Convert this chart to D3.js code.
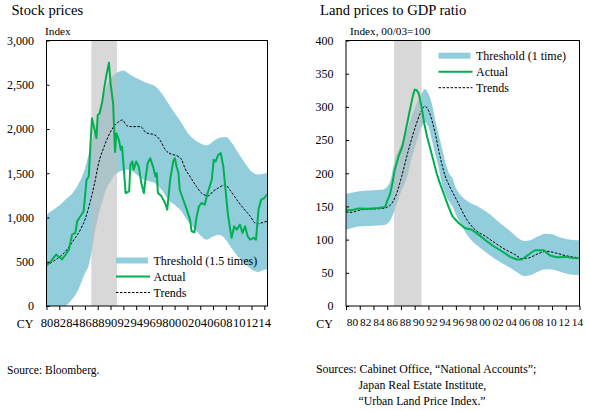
<!DOCTYPE html>
<html>
<head>
<meta charset="utf-8">
<script src="https://cdn.jsdelivr.net/npm/d3@7"></script>
<style>
  body { margin: 0; background: #fff; }
  svg text { font-family: "Liberation Serif", "Times New Roman", serif; fill: #000; }
</style>
</head>
<body>
<div id="container"></div>
<script>
// ---- stock prices (index), left panel ----
const stockBandYears = [1980, 1981, 1982, 1983, 1984, 1985, 1986, 1986.5, 1987, 1987.5, 1988, 1988.5, 1989, 1989.5,
  1990, 1990.5, 1991, 1992, 1993, 1994, 1995, 1996, 1997, 1998, 1999, 2000, 2001, 2002, 2003, 2004, 2005, 2006,
  2007, 2008, 2009, 2010, 2011, 2012, 2013, 2014, 2014.5];
const stockUpper = [1032, 1085, 1135, 1205, 1270, 1380, 1555, 1690, 1830, 2000, 2160, 2300, 2403, 2500,
  2572, 2610, 2635, 2660, 2615, 2575, 2540, 2510, 2480, 2400, 2290, 2180, 2075, 1960, 1885, 1840, 1815, 1860,
  1900, 1910, 1835, 1720, 1614, 1520, 1485, 1495, 1502];
const stockLower = [-120, -100, -60, 0, 75, 190, 370, 440, 600, 810, 985, 1130, 1250, 1350,
  1410, 1470, 1500, 1535, 1540, 1490, 1435, 1410, 1385, 1310, 1201, 1145, 1075, 965, 880, 800, 750, 785,
  805, 750, 640, 550, 480, 415, 385, 410, 413];
const stockActual = [[1980.0, 458], [1980.3, 480], [1980.6, 495], [1981.1, 544], [1981.5, 582], [1981.8, 563],
  [1982.2, 544], [1982.4, 526], [1983.0, 582], [1983.5, 638], [1984.0, 807], [1984.5, 826], [1984.8, 957],
  [1985.3, 1014], [1985.8, 1070], [1986.25, 1426], [1986.6, 1464], [1986.9, 1877], [1987.1, 2121], [1987.5, 1990],
  [1987.8, 1896], [1988.0, 2159], [1988.3, 2177], [1988.7, 2309], [1989.0, 2459], [1989.4, 2628], [1989.75, 2748],
  [1990.0, 2515], [1990.4, 2290], [1990.7, 1740], [1990.9, 1952], [1991.3, 1877], [1991.6, 1764], [1991.8, 1802],
  [1992.1, 1520], [1992.35, 1276], [1992.9, 1295], [1993.1, 1595], [1993.4, 1633], [1993.6, 1539], [1994.0, 1633],
  [1994.4, 1577], [1994.8, 1389], [1995.2, 1276], [1995.5, 1464], [1995.8, 1614], [1996.2, 1670], [1996.7, 1558],
  [1997.0, 1464], [1997.2, 1502], [1997.4, 1276], [1997.96, 1239], [1998.5, 1164], [1998.85, 1089], [1999.3, 1426],
  [1999.8, 1640], [2000.05, 1670], [2000.3, 1577], [2000.6, 1502], [2000.8, 1314], [2001.35, 1201], [2001.9, 1089],
  [2002.4, 976], [2002.65, 845], [2003.1, 833], [2003.4, 995], [2003.8, 1126], [2004.2, 1164], [2004.7, 1145],
  [2005.15, 1276], [2005.8, 1426], [2006.1, 1652], [2006.4, 1633], [2006.8, 1708], [2007.2, 1727], [2007.6, 1577],
  [2007.9, 1351], [2008.3, 1051], [2008.6, 901], [2008.9, 770], [2009.3, 901], [2009.7, 863], [2010.2, 920],
  [2010.6, 826], [2011.0, 901], [2011.4, 788], [2011.8, 751], [2012.3, 770], [2012.7, 750], [2013.1, 1089],
  [2013.5, 1201], [2014.0, 1220], [2014.4, 1260]];
const stockTrend = [[1980, 458], [1981.1, 507], [1982.2, 563], [1983.2, 638], [1984.3, 751], [1985.3, 863],
  [1986.1, 995], [1986.9, 1201], [1987.4, 1351], [1988.2, 1630], [1989.0, 1802], [1989.75, 1933], [1990.5, 2027],
  [1991.3, 2083], [1991.8, 2102], [1992.6, 2035], [1993.4, 2027], [1994.7, 2027], [1995.5, 1960], [1996.25, 1945],
  [1996.9, 1933], [1997.7, 1877], [1998.6, 1760], [1999.5, 1715], [2000.3, 1700], [2001.1, 1652], [2001.6, 1558],
  [2002.4, 1464], [2003.4, 1351], [2004.2, 1276], [2005.25, 1245], [2006.0, 1295], [2006.8, 1333], [2007.9, 1370],
  [2008.6, 1314], [2009.7, 1201], [2010.7, 1107], [2011.8, 1014], [2012.55, 938], [2013.1, 930], [2013.85, 946],
  [2014.5, 957]];
const stockTicks = [0, 500, 1000, 1500, 2000, 2500, 3000];
const stockLegend = ['Threshold (1.5 times)', 'Actual', 'Trends'];

// ---- land prices to GDP ratio, right panel ----
const landBandYears = [1980, 1981, 1982, 1983, 1984, 1985, 1985.5, 1986, 1986.5, 1987, 1987.5, 1988, 1988.5, 1989,
  1989.5, 1990, 1990.5, 1991, 1991.5, 1992, 1992.5, 1993, 1993.5, 1994, 1994.5, 1995, 1995.5, 1996, 1997, 1998,
  1999, 2000, 2001, 2002, 2003, 2004, 2005, 2006, 2007, 2008, 2009, 2010, 2011, 2012, 2013, 2014];
const landUpper = [169, 171, 173, 174, 174.5, 175, 176, 180, 190, 215, 232, 243, 255, 268,
  284, 298, 310, 320, 327, 320, 305, 280, 258, 237, 216, 200, 192, 178, 164, 156,
  151, 145, 138, 129, 120, 112, 103, 98, 100, 105, 109, 108, 104, 101, 99.5, 99];
const landLower = [115, 118, 120, 120.5, 121, 121.5, 122, 124, 130, 142, 157, 172, 183, 198,
  220, 238, 255, 270, 277, 270, 250, 228, 208, 182, 168, 158, 150, 138, 118, 102,
  92, 84, 76, 69, 63, 57, 50, 45, 47, 52, 55.5, 55, 52.5, 49, 47, 46.5];
const landActual = [[1980.0, 146], [1980.3, 144], [1981.1, 145], [1981.8, 147], [1983.3, 146.5], [1984.7, 147.5],
  [1985.7, 149], [1986.0, 158], [1986.4, 168], [1986.75, 185], [1987.1, 205], [1987.7, 227], [1988.2, 240],
  [1988.7, 265], [1989.2, 290], [1989.7, 315], [1990.0, 326], [1990.3, 325], [1990.6, 320], [1991.0, 300],
  [1991.4, 275], [1991.8, 255], [1992.2, 240], [1992.7, 220], [1993.2, 200], [1993.6, 187], [1994.2, 170],
  [1994.9, 150], [1995.5, 135], [1996.4, 125], [1997.3, 117.5], [1998.3, 115], [1999.3, 107.5], [2000.5, 97.5],
  [2001.5, 90], [2002.7, 82.5], [2003.9, 74], [2004.9, 70], [2005.6, 70], [2006.6, 77.5], [2007.5, 84],
  [2008.8, 84], [2009.7, 76], [2010.7, 73.5], [2011.9, 74], [2012.9, 72.5], [2014.0, 72]];
const landTrend = [[1980, 142], [1980.6, 141], [1982.3, 145], [1983.7, 146], [1985.4, 147], [1986.2, 150],
  [1986.7, 155], [1987.2, 165], [1987.7, 180], [1988.1, 195], [1989.1, 235], [1990.1, 270], [1990.8, 290],
  [1991.5, 301], [1992.0, 295], [1992.5, 280], [1993.0, 260], [1993.7, 225], [1994.4, 197], [1995.1, 180],
  [1996.1, 160], [1997.6, 130], [1998.8, 115], [2000.3, 105], [2001.7, 95], [2003.2, 85], [2004.6, 77.5],
  [2005.6, 71.5], [2006.6, 72.5], [2008.0, 79], [2009.25, 82.5], [2010.5, 80], [2011.9, 76], [2012.9, 74],
  [2014, 72.5]];
const landTicks = [0, 50, 100, 150, 200, 250, 300, 350, 400];
const landLegend = ['Threshold (1 time)', 'Actual', 'Trends'];

// shared
const yearTicks = d3.range(1980, 2015, 2);
const bubbleSpan = [1987, 1991];

const width = 589;
const height = 411;
const bandColor = '#92cddc';
const actualColor = '#00b050';

const svg = d3.select('#container')
  .append('svg')
  .attr('width', width)
  .attr('height', height);

function drawPanel(p) {
  const x = d3.scaleLinear().domain(p.xDomain).range([p.left, p.right]);
  const y = d3.scaleLinear().domain(p.yDomain).range([p.bottom, p.top]);
  const g = svg.append('g');

  g.append('clipPath').attr('id', p.id + '-clip')
    .append('rect')
    .attr('x', p.left).attr('y', p.top)
    .attr('width', p.right - p.left).attr('height', p.bottom - p.top);

  const plot = g.append('g').attr('clip-path', `url(#${p.id}-clip)`);

  // threshold band
  const area = d3.area()
    .x((d, i) => x(p.bandYears[i]))
    .y0((d, i) => y(p.lower[i]))
    .y1((d, i) => y(p.upper[i]))
    .curve(d3.curveMonotoneX);
  plot.append('path').datum(p.bandYears).attr('d', area).style('fill', bandColor);

  // bubble period shading
  plot.append('rect')
    .attr('x', x(bubbleSpan[0]))
    .attr('width', x(bubbleSpan[1]) - x(bubbleSpan[0]))
    .attr('y', p.top)
    .attr('height', p.bottom - p.top)
    .style('fill', 'rgb(190,190,190)')
    .style('opacity', 0.6);

  // trend and actual
  const trendLine = d3.line().x(d => x(d[0])).y(d => y(d[1])).curve(d3.curveMonotoneX);
  const actualLine = d3.line().x(d => x(d[0])).y(d => y(d[1]));
  plot.append('path').datum(p.trend).attr('d', trendLine)
    .style('fill', 'none').style('stroke', '#000').style('stroke-width', 1)
    .style('stroke-dasharray', '2.5,1.5');
  plot.append('path').datum(p.actual).attr('d', actualLine)
    .style('fill', 'none').style('stroke', actualColor).style('stroke-width', 2)
    .style('stroke-linejoin', 'round');

  // axes
  const xAxis = d3.axisBottom(x)
    .tickValues(yearTicks)
    .tickSize(4)
    .tickPadding(8)
    .tickFormat(d => String(d).slice(2));
  const xg = g.append('g')
    .attr('transform', `translate(0,${p.bottom})`)
    .call(xAxis);
  xg.select('.domain').remove();
  if (p.labelRange) {
    const lx = d3.scaleLinear().domain(p.xDomain).range(p.labelRange);
    xg.selectAll('.tick text').attr('x', d => lx(d) - x(d));
  }

  const yAxis = d3.axisLeft(y)
    .tickValues(p.yTicks)
    .tickSize(-3)
    .tickPadding(12.5)
    .tickFormat(p.yFormat);
  const yg = g.append('g')
    .attr('transform', `translate(${p.left},0)`)
    .call(yAxis);
  yg.select('.domain').remove();

  [xg, yg].forEach(a => {
    a.attr('font-family', null).attr('font-size', null);
    a.selectAll('line').style('stroke', '#000');
  });
  yg.selectAll('text').style('font-size', '12px');
  xg.selectAll('text').style('font-size', p.xFont);

  g.append('text')
    .attr('x', p.left - 13).attr('y', 327.5)
    .attr('text-anchor', 'end')
    .style('font-size', '12px')
    .text('CY');

  // frame
  g.append('rect')
    .attr('x', p.left).attr('y', p.top)
    .attr('width', p.right - p.left).attr('height', p.bottom - p.top)
    .style('fill', 'none').style('stroke', '#000').style('stroke-width', 1);

  // titles
  g.append('text').attr('x', p.titleX).attr('y', 15)
    .style('font-size', '14.6px').text(p.title);
  g.append('text').attr('x', p.unitX).attr('y', 35)
    .style('font-size', '11.3px').text(p.unit);

  // legend
  const lg = g.append('g');
  lg.append('rect')
    .attr('x', p.legendX).attr('y', p.legendY - 3)
    .attr('width', 32).attr('height', 6)
    .style('fill', bandColor);
  lg.append('line')
    .attr('x1', p.legendX).attr('x2', p.legendX + 34)
    .attr('y1', p.legendY + 16).attr('y2', p.legendY + 16)
    .style('stroke', actualColor).style('stroke-width', 2);
  lg.append('line')
    .attr('x1', p.legendX).attr('x2', p.legendX + 34)
    .attr('y1', p.legendY + 32).attr('y2', p.legendY + 32)
    .style('stroke', '#000').style('stroke-width', 1).style('stroke-dasharray', '2.5,1.5');
  lg.selectAll('text')
    .data(p.legend)
    .enter()
    .append('text')
    .attr('x', p.legendX + 37.5)
    .attr('y', (d, i) => p.legendY + i * 16 + 4)
    .style('font-size', '12px')
    .text(d => d);
}

drawPanel({
  id: 'stock', left: 46.5, right: 267.5, top: 40.5, bottom: 306,
  xDomain: [1980, 2014.5], yDomain: [0, 3000], yTicks: stockTicks, yFormat: d3.format(','),
  xFont: '12.5px',
  bandYears: stockBandYears, upper: stockUpper, lower: stockLower,
  actual: stockActual, trend: stockTrend,
  title: 'Stock prices', titleX: 11.5, unit: 'Index', unitX: 45,
  legend: stockLegend, legendX: 116, legendY: 260.5
});

drawPanel({
  id: 'land', left: 346, right: 579.5, top: 40.5, bottom: 306,
  xDomain: [1980, 2014], yDomain: [0, 400], yTicks: landTicks, yFormat: d3.format('d'),
  xFont: '11.3px', labelRange: [352, 577],
  bandYears: landBandYears, upper: landUpper, lower: landLower,
  actual: landActual, trend: landTrend,
  title: 'Land prices to GDP ratio', titleX: 320, unit: 'Index, 00/03=100', unitX: 350,
  legend: landLegend, legendX: 438.5, legendY: 55.7
});

// sources
svg.append('text').attr('x', 7).attr('y', 374)
  .style('font-size', '11.5px').text('Source: Bloomberg.');
const notes = svg.append('g').style('font-size', '11.8px');
notes.append('text').attr('x', 316).attr('y', 372.5)
  .text('Sources: Cabinet Office, \u201cNational Accounts\u201d;');
notes.append('text').attr('x', 358.5).attr('y', 388.5)
  .text('Japan Real Estate Institute,');
notes.append('text').attr('x', 358.5).attr('y', 404.5)
  .text('\u201cUrban Land Price Index.\u201d');
</script>
</body>
</html>
